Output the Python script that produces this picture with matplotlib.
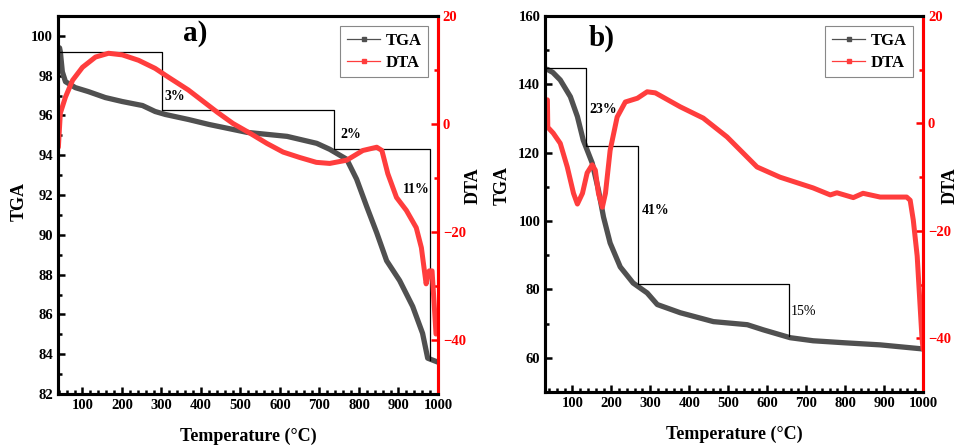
# TGA / DTA curves for two samples, side by side

import matplotlib.pyplot as plt
from matplotlib.lines import Line2D
from matplotlib.ticker import MultipleLocator

plt.rcParams['font.family'] = ['Liberation Serif', 'DejaVu Serif']
plt.rcParams['font.weight'] = 'bold'
plt.rcParams['axes.labelweight'] = 'bold'

# panel a data
temp_tga_a = [42, 44, 49, 57, 82, 115, 158, 201, 252, 284, 310, 368, 420, 517, 618, 693,
              726, 769, 794, 820, 845, 870, 903, 936, 961, 974, 987, 1000]
tga_a = [99.4, 99.2, 98.2, 97.7, 97.4, 97.2, 96.9, 96.7, 96.5, 96.2, 96.05, 95.8, 95.55,
         95.15, 94.95, 94.6, 94.3, 93.8, 92.8, 91.4, 90.1, 88.7, 87.7, 86.4, 85.05, 83.8,
         83.7, 83.6]
temp_dta_a = [39, 44, 57, 75, 100, 133, 166, 201, 242, 284, 317, 368, 441, 481, 524, 567,
              608, 650, 692, 726, 769, 810, 845, 858, 873, 895, 920, 945, 958, 970, 978,
              985, 992, 995]
dta_a = [-4.3, 2.0, 5.0, 8.1, 10.5, 12.4, 13.1, 12.8, 11.8, 10.3, 8.7, 6.3, 2.2, 0.1, -1.7,
         -3.6, -5.2, -6.2, -7.1, -7.3, -6.7, -4.9, -4.3, -4.9, -9.2, -13.6, -16.0, -19.2,
         -22.9, -29.6, -27.2, -27.2, -35.2, -38.9]

# panel b data
temp_tga_b = [36, 50, 69, 95, 113, 128, 151, 167, 180, 197, 223, 256, 292, 318, 377, 462,
              549, 590, 659, 718, 800, 890, 1000]
tga_b = [144.4, 143.5, 141.3, 136.4, 130.6, 123.7, 117.0, 109.1, 101.2, 93.6, 86.6, 81.9,
         79.0, 75.6, 73.2, 70.6, 69.7, 68.2, 65.9, 65.0, 64.4, 63.8, 62.6]
temp_dta_b = [36, 37, 51, 69, 87, 103, 113, 126, 138, 151, 159, 167, 177, 185, 197, 215,
              236, 267, 292, 313, 377, 436, 497, 574, 633, 718, 762, 779, 821, 846, 890,
              958, 967, 975, 985, 997, 1000]
dta_b = [4.4, -0.7, -1.8, -3.7, -8.1, -13.0, -15.0, -13.0, -9.2, -7.7, -8.7, -13.0, -15.6,
         -13.0, -5.0, 1.2, 4.0, 4.7, 5.9, 5.7, 3.1, 1.0, -2.5, -8.1, -10.0, -12.0, -13.3,
         -12.9, -13.8, -13.0, -13.7, -13.7, -14.3, -18.0, -24.7, -39.6, -42.0]

# mass-loss staircase (x, y) and labels
step_x_a = [44, 302, 302, 736, 736, 979, 979]
step_y_a = [99.2, 99.2, 96.26, 96.26, 94.3, 94.3, 83.7]
loss_labels_a = ['3%', '2%', '11%']
loss_pos_a = [(308, 96.95), (752, 95.05), (912, 92.3)]

step_x_b = [34, 136, 136, 269, 269, 656, 656]
step_y_b = [144.8, 144.8, 122.1, 122.1, 81.6, 81.6, 66.5]
loss_labels_b = ['23%', '41%', '15%']
loss_pos_b = [(143, 132.6), (279, 103), (661, 73.5)]

tga_color = '#505050'
dta_color = '#ff3d3d'

fig = plt.figure(figsize=(9.63, 4.46), dpi=100)


def draw_panel(rect, xlim, ylim, ymajor, yminor, temp_t, tga, temp_d, dta,
               step_x, step_y, loss_labels, loss_pos, loss_bold, tag, tag_pos,
               tga_lab_xy, dta_lab_xy):
    ax = fig.add_axes(rect)
    ax.plot(temp_t, tga, color=tga_color, lw=3.8, solid_capstyle='round',
            solid_joinstyle='round')
    ax.plot(step_x, step_y, color='black', lw=0.9)
    for lab, (tx, ty), bold in zip(loss_labels, loss_pos, loss_bold):
        ax.text(tx, ty, lab, fontsize=10, va='center',
                fontweight='bold' if bold else 'normal')
    ax.set_xlim(*xlim)
    ax.set_ylim(*ylim)
    ax.xaxis.set_major_locator(MultipleLocator(100))
    ax.xaxis.set_minor_locator(MultipleLocator(20))
    ax.yaxis.set_major_locator(MultipleLocator(ymajor))
    ax.yaxis.set_minor_locator(MultipleLocator(yminor))
    ax.tick_params(which='both', direction='in', width=1.8, labelsize=10.5)
    ax.tick_params(which='major', length=5)
    ax.tick_params(which='minor', length=3)
    for s in ax.spines.values():
        s.set_linewidth(2.2)
    ax.set_xlabel('Temperature (°C)', fontsize=13)
    ax.xaxis.set_label_coords(0.5, -0.09)
    ax.set_ylabel('TGA', fontsize=13)
    ax.yaxis.set_label_coords(*tga_lab_xy)
    ax.text(tag_pos[0], tag_pos[1], tag, transform=ax.transAxes, fontsize=21,
            fontweight='bold', ha='center', va='center')

    ax2 = ax.twinx()
    ax2.plot(temp_d, dta, color=dta_color, lw=3.6, solid_capstyle='round',
             solid_joinstyle='round')
    ax2.set_ylim(-50, 20)
    ax2.yaxis.set_major_locator(MultipleLocator(20))
    ax2.yaxis.set_minor_locator(MultipleLocator(10))
    ax2.tick_params(which='both', direction='in', width=1.8, labelsize=10.5,
                    colors='red')
    ax2.tick_params(which='major', length=5)
    ax2.tick_params(which='minor', length=3)
    for s in ax2.spines.values():
        s.set_linewidth(2.2)
    ax2.spines['right'].set_color('red')
    ax2.set_ylabel('DTA', fontsize=13, rotation=90)
    ax2.yaxis.set_label_coords(*dta_lab_xy)

    handles = [Line2D([], [], color=tga_color, lw=0.9, marker='s', markersize=2.5),
               Line2D([], [], color=dta_color, lw=0.9, marker='s', markersize=2.5)]
    leg = ax2.legend(handles, ['TGA', 'DTA'], loc='upper right', fontsize=12,
                     fancybox=False, framealpha=1, edgecolor='#888888',
                     handlelength=2.0, borderaxespad=0.6, borderpad=0.4,
                     labelspacing=0.35, handletextpad=0.3)
    leg.get_frame().set_linewidth(0.8)
    return ax, ax2


draw_panel([0.0602, 0.1166, 0.3946, 0.8475], (38, 1000), (82, 101), 2, 1,
           temp_tga_a, tga_a, temp_dta_a, dta_a, step_x_a, step_y_a,
           loss_labels_a, loss_pos_a, [True, True, True], 'a)', (0.36, 0.955),
           (-0.08, 0.51), (1.071, 0.55))
draw_panel([0.566, 0.121, 0.3925, 0.843], (30, 1000), (50, 160), 20, 10,
           temp_tga_b, tga_b, temp_dta_b, dta_b, step_x_b, step_y_b,
           loss_labels_b, loss_pos_b, [True, True, False], 'b)', (0.15, 0.94),
           (-0.09, 0.55), (1.05, 0.55))

plt.savefig('out.png', dpi=100)
